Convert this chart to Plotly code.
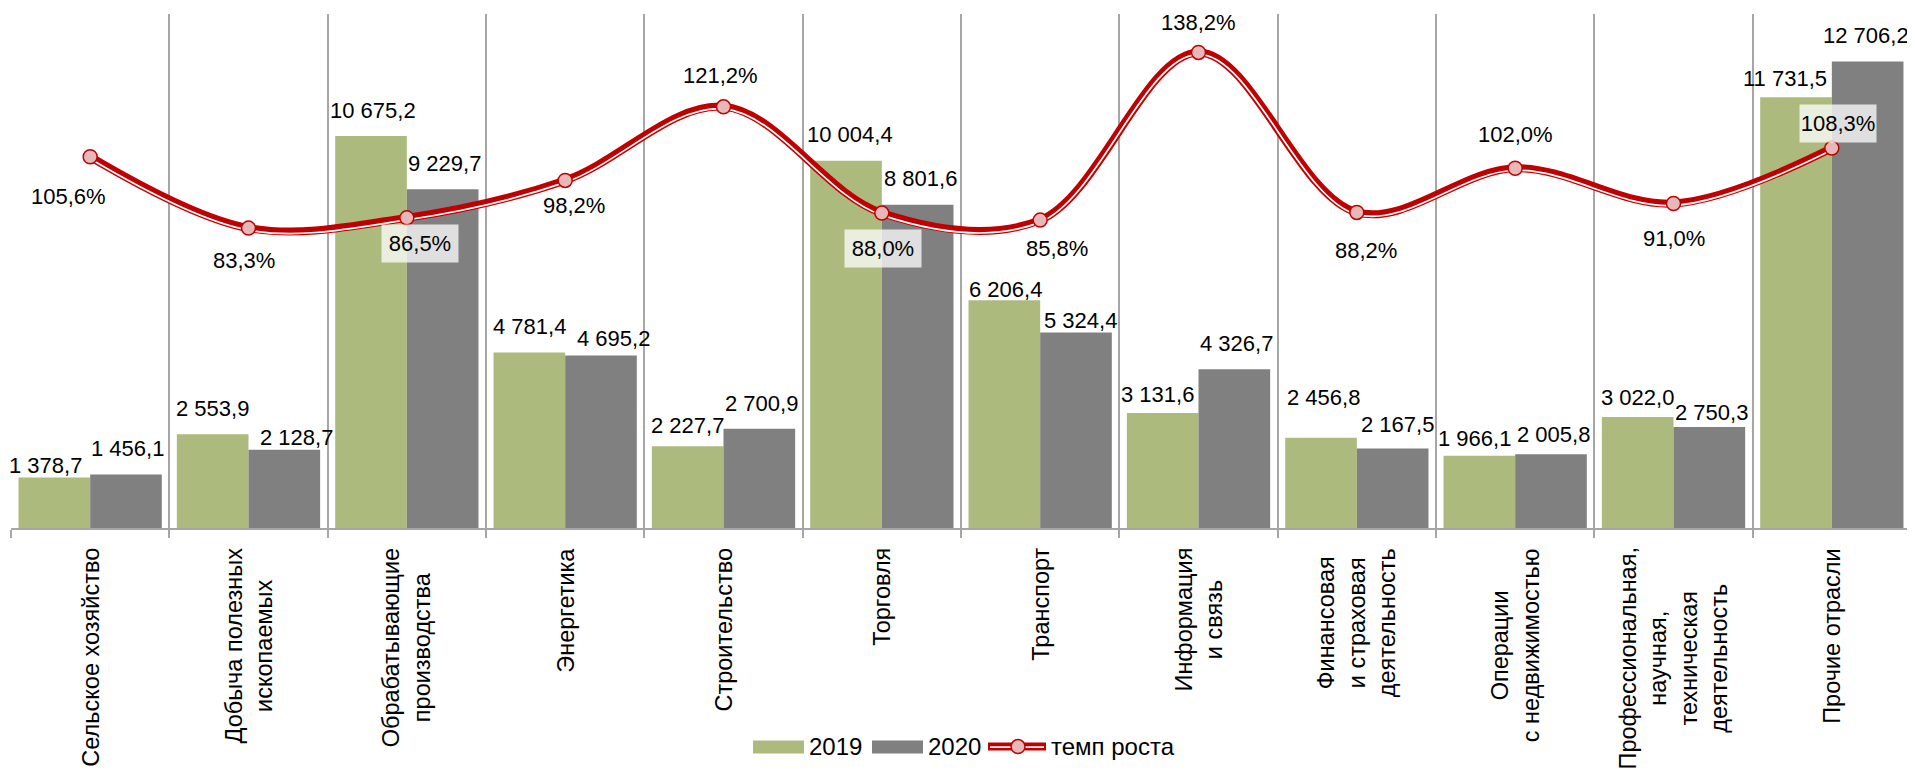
import plotly.graph_objects as go

# ---------------- data ----------------
categories = [
    "Сельское хозяйство", "Добыча полезных ископаемых", "Обрабатывающие производства",
    "Энергетика", "Строительство", "Торговля", "Транспорт", "Информация и связь",
    "Финансовая и страховая деятельность", "Операции с недвижимостью",
    "Профессиональная, научная, техническая деятельность", "Прочие отрасли",
]
category_labels = [
    "Сельское хозяйство", "Добыча полезных<br>ископаемых", "Обрабатывающие<br>производства",
    "Энергетика", "Строительство", "Торговля", "Транспорт", "Информация<br>и связь",
    "Финансовая<br>и страховая<br>деятельность", "Операции<br>с недвижимостью",
    "Профессиональная,<br>научная,<br>техническая<br>деятельность", "Прочие отрасли",
]
values_2019 = [1378.7, 2553.9, 10675.2, 4781.4, 2227.7, 10004.4, 6206.4, 3131.6, 2456.8, 1966.1, 3022.0, 11731.5]
values_2020 = [1456.1, 2128.7, 9229.7, 4695.2, 2700.9, 8801.6, 5324.4, 4326.7, 2167.5, 2005.8, 2750.3, 12706.2]
growth_rate = [105.6, 83.3, 86.5, 98.2, 121.2, 88.0, 85.8, 138.2, 88.2, 102.0, 91.0, 108.3]
series_names = ["2019", "2020", "темп роста"]

# ---------------- style ----------------
GREEN = "#ADBA7D"
GREY = "#808080"
RED = "#C00000"
PINK = "#E6B9B8"
GRID = "#A6A6A6"
NUMFONT = "Liberation Sans, Arial, sans-serif"
REGULAR = "Liberation Sans, Arial, sans-serif"

# the page body has an 8px margin: figure is placed at (8, 8)
OFF = 8
W, H = 1915 - OFF, 775 - OFF
PLOT_L, PLOT_R, PLOT_T, PLOT_B = 11, 1911, 14, 528.3  # page pixels
ML, MT = PLOT_L - OFF, PLOT_T - OFF
MR = W - (PLOT_R - OFF)
MB = H - (PLOT_B - OFF)
PW = PLOT_R - PLOT_L
PH = PLOT_B - PLOT_T
Y2_RANGE = [-10.4, 150.2]
px_per_pct = PH / (Y2_RANGE[1] - Y2_RANGE[0])
white_shift = 2.0 / px_per_pct
BARGAP = 0.095
cat_w = PW / len(categories)
bar_off = cat_w * (1 - BARGAP) / 4  # centre of each bar from category centre

# label nudges (px): (dx, extra_down)
nudge_2019 = [(-8.5, 14.4), (0, 0), (1.7, 0), (0, 0), (0, 5), (4, 0), (1, 15), (-5, 7.5),
              (2.6, -14.6), (-5, 9), (0, 6.5), (-11, 7)]
nudge_2020 = [(1.5, 0), (12, 14), (1.5, 0), (12.6, 8.5), (2, 0.6), (2.5, 0), (4.7, 13.6), (2, 0.4),
              (5, 2.3), (3, 6.5), (2, 11), (-2, 0)]
# percent label offsets from marker (dx, dy down) and whether boxed
pct_offsets = [(-22, 40), (-5, 32), (13, 26), (9, 25), (-3, -31), (1, 35), (17, 28), (0, -30),
               (9, 38), (0, -34), (0, 35), (6, -25)]
pct_boxed = [False, False, True, False, False, True, False, False, False, False, False, True]

LABEL_GAP = 11.5


def fmt_num(v):
    return f"{v:,.1f}".replace(",", "\u00a0").replace(".", ",")


def fmt_pct(v):
    return f"{v:.1f}%".replace(".", ",")


fig = go.Figure()
fig.add_trace(go.Bar(x=categories, y=values_2019, name=series_names[0], marker_color=GREEN,
                     marker_line_width=0, yaxis="y"))
fig.add_trace(go.Bar(x=categories, y=values_2020, name=series_names[1], marker_color=GREY,
                     marker_line_width=0, yaxis="y"))
fig.add_trace(go.Scatter(x=categories, y=growth_rate, mode="lines", yaxis="y2",
                         line=dict(color=RED, width=8, shape="spline", smoothing=1.0),
                         showlegend=False, hoverinfo="skip"))
fig.add_trace(go.Scatter(x=categories, y=growth_rate, mode="lines", yaxis="y3",
                         line=dict(color="white", width=1.7, shape="spline", smoothing=1.0),
                         showlegend=False, hoverinfo="skip"))
fig.add_trace(go.Scatter(x=categories, y=growth_rate, mode="markers", yaxis="y4", name=series_names[2],
                         marker=dict(size=14, color=PINK, line=dict(color=RED, width=1.5))))

annotations = []
# category labels
for cat, lab in zip(categories, category_labels):
    annotations.append(dict(x=cat, xref="x", y=0, yref="paper", text=lab, textangle=-90,
                            showarrow=False, xanchor="center", yanchor="top", yshift=-18,
                            align="center", font=dict(family=REGULAR, size=23.5, color="black")))
# bar labels
for vals, nudges, sign in ((values_2019, nudge_2019, -1), (values_2020, nudge_2020, 1)):
    for cat, v, (dx, dd) in zip(categories, vals, nudges):
        annotations.append(dict(x=cat, xref="x", y=v, yref="y", text=fmt_num(v), showarrow=False,
                                xanchor="center", yanchor="bottom",
                                xshift=sign * bar_off + dx, yshift=LABEL_GAP - dd,
                                font=dict(family=NUMFONT, size=22, color="black")))
# percentage labels
for cat, v, (dx, dy), boxed in zip(categories, growth_rate, pct_offsets, pct_boxed):
    a = dict(x=cat, xref="x", y=v, yref="y2", text=fmt_pct(v), showarrow=False,
             xanchor="center", yanchor="middle", xshift=dx, yshift=-dy,
             font=dict(family=NUMFONT, size=22, color="black"))
    if boxed:
        a.update(bgcolor="rgba(255,255,255,0.75)", width=74, height=35)
    annotations.append(a)


# custom legend (page pixel positions -> paper coords)
def px_x(p):
    return (p - PLOT_L) / PW


def px_y(p):
    return (PLOT_B - p) / PH


shapes = []
leg_y = 747
shapes.append(dict(type="rect", xref="paper", yref="paper", x0=px_x(753), x1=px_x(804),
                   y0=px_y(754), y1=px_y(741), fillcolor=GREEN, line_width=0))
shapes.append(dict(type="rect", xref="paper", yref="paper", x0=px_x(872), x1=px_x(923),
                   y0=px_y(754), y1=px_y(741), fillcolor=GREY, line_width=0))
shapes.append(dict(type="line", xref="paper", yref="paper", x0=px_x(988), x1=px_x(1046),
                   y0=px_y(leg_y), y1=px_y(leg_y), line=dict(color=RED, width=8)))
shapes.append(dict(type="line", xref="paper", yref="paper", x0=px_x(990), x1=px_x(1044),
                   y0=px_y(leg_y + 0.5), y1=px_y(leg_y + 0.5), line=dict(color="white", width=1.7)))
shapes.append(dict(type="circle", xref="paper", yref="paper", x0=px_x(1011), x1=px_x(1025),
                   y0=px_y(leg_y + 7), y1=px_y(leg_y - 7), fillcolor=PINK, line=dict(color=RED, width=1.5)))
for txt, left in ((series_names[0], 807), (series_names[1], 926), (series_names[2], 1049)):
    annotations.append(dict(x=px_x(left), xref="paper", y=px_y(leg_y), yref="paper", text=txt,
                            showarrow=False, xanchor="left", yanchor="middle",
                            font=dict(family=NUMFONT, size=24, color="black")))

fig.update_layout(
    width=W, height=H, margin=dict(l=ML, r=MR, t=MT, b=MB, pad=0),
    plot_bgcolor="white", paper_bgcolor="white", showlegend=False,
    barmode="group", bargap=BARGAP, bargroupgap=0,
    xaxis=dict(type="category", range=[-0.5, len(categories) - 0.5], tickson="boundaries",
               showgrid=True, gridcolor=GRID, gridwidth=2, ticks="outside", ticklen=8,
               tickcolor=GRID, tickwidth=2, showticklabels=False, showline=True,
               linecolor=GRID, linewidth=2, zeroline=False),
    yaxis=dict(range=[0, 14000], showgrid=False, showticklabels=False, zeroline=False, showline=False),
    yaxis2=dict(range=Y2_RANGE, overlaying="y", visible=False),
    yaxis3=dict(range=[Y2_RANGE[0] + white_shift, Y2_RANGE[1] + white_shift], overlaying="y", visible=False),
    yaxis4=dict(range=Y2_RANGE, overlaying="y", visible=False),
    annotations=annotations, shapes=shapes,
)

fig.write_html("out.html")
